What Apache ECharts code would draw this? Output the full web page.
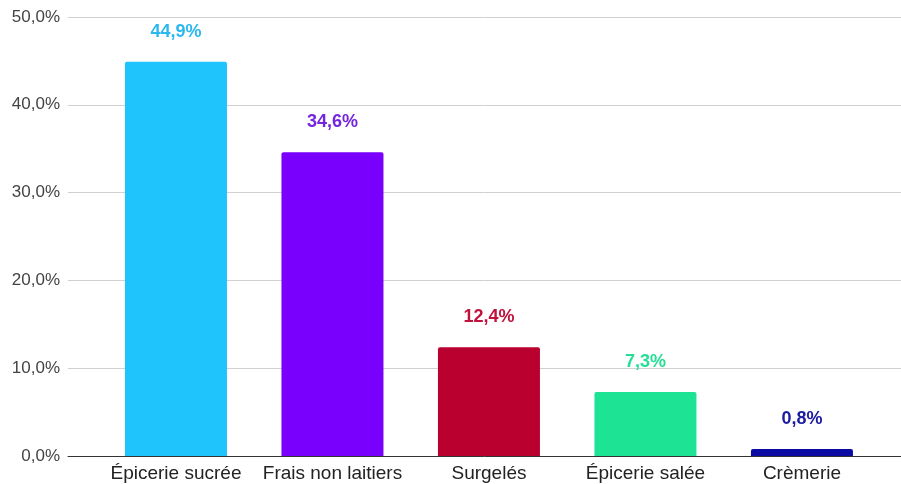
<!DOCTYPE html>
<html><head><meta charset="utf-8">
<script src="https://cdn.jsdelivr.net/npm/echarts@6/dist/echarts.min.js"></script>
<style>html,body{margin:0;padding:0;background:#fff}#c{width:901px;height:484px}</style>
</head><body><div id="c"></div>
<script>
const categories = ["Épicerie sucrée", "Frais non laitiers", "Surgelés", "Épicerie salée", "Crèmerie"];
const values = [44.9, 34.6, 12.4, 7.3, 0.8];
const barColors = ["#20c4fd", "#7a00fd", "#b9002f", "#1de495", "#0b0aa3"];
const labelColors = ["#2cb8ee", "#7326de", "#c0123c", "#26df97", "#1a1aa2"];
const yTicks = [0, 10, 20, 30, 40, 50];

const FONT = '"Liberation Sans", Arial, sans-serif';
const chart = echarts.init(document.getElementById('c'));
const fmt = v => v.toFixed(1).replace('.', ',') + '%';
chart.setOption({
  animation: false,
  grid: {left: 68, right: 0, top: 17, bottom: 28},
  xAxis: {
    type: 'value', min: -0.69, max: 4.633,
    splitLine: {show: false},
    axisLine: {show: true, onZero: false, lineStyle: {color: '#333', width: 1}},
    axisTick: {show: false},
    axisLabel: {
      customValues: categories.map((c, i) => i),
      formatter: v => categories[Math.round(v)] || '',
      color: '#222', fontSize: 19, fontFamily: FONT, margin: 8
    }
  },
  yAxis: {
    type: 'value', min: yTicks[0], max: yTicks[yTicks.length - 1], interval: 10,
    axisLine: {show: false}, axisTick: {show: false},
    splitLine: {lineStyle: {color: '#d0d0d0', width: 1}},
    axisLabel: {formatter: v => fmt(v), color: '#444', fontSize: 17, fontFamily: FONT, margin: 8}
  },
  series: [{
    type: 'bar', barWidth: 102,
    data: values.map((v, i) => ({
      value: [i, v],
      itemStyle: {color: barColors[i], borderRadius: [2, 2, 0, 0]},
      label: {color: labelColors[i]}
    })),
    label: {
      show: true, position: 'top', distance: 21,
      formatter: p => fmt(p.value[1]),
      fontSize: 18, fontWeight: 'bold', fontFamily: FONT
    }
  }]
});
</script></body></html>
